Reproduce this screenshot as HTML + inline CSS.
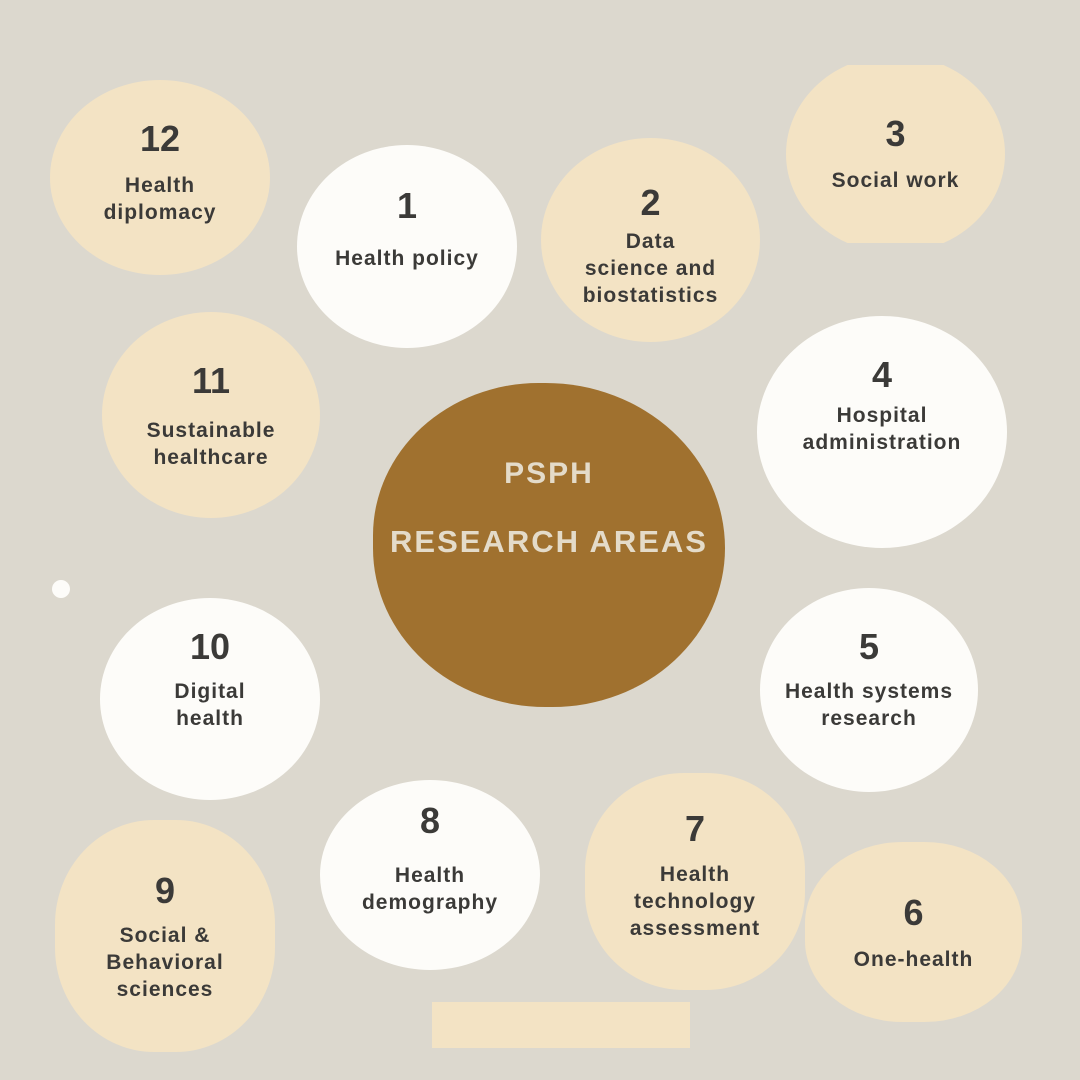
<!DOCTYPE html>
<html><head><meta charset="utf-8"><style>
html,body{margin:0;padding:0}
body{width:1080px;height:1080px;background:#dcd8ce;position:relative;overflow:hidden;font-family:"Liberation Sans",sans-serif;color:#3b3a38}
.c{position:absolute;border-radius:50%;display:flex;flex-direction:column;align-items:center;text-align:center}
.b{background:#f3e3c4}.w{background:#fdfcf9}
.n{position:absolute;left:0;right:0;font-size:36px;font-weight:bold;text-align:center}
.t{position:absolute;left:0;right:0;font-size:21px;line-height:27px;text-align:center;letter-spacing:1px;font-weight:bold}
</style></head><body>
<div class="c b" style="left:50px;top:80px;width:220px;height:195px"><div class="n" style="top:38px">12</div><div class="t" style="top:92px">Health<br>diplomacy</div></div>
<div class="c w" style="left:297px;top:145px;width:220px;height:203px"><div class="n" style="top:40px">1</div><div class="t" style="top:100px">Health policy</div></div>
<div class="c b" style="left:541px;top:138px;width:219px;height:204px"><div class="n" style="top:44px">2</div><div class="t" style="top:90px">Data<br>science and<br>biostatistics</div></div>
<div class="c b" style="left:786px;top:55px;width:219px;height:198px;clip-path:inset(10px 0 10px 0)"><div class="n" style="top:58px">3</div><div class="t" style="top:112px">Social work</div></div>
<div class="c b" style="left:102px;top:312px;width:218px;height:206px"><div class="n" style="top:48px">11</div><div class="t" style="top:105px">Sustainable<br>healthcare</div></div>
<div class="c" style="left:373px;top:383px;width:352px;height:324px;background:#a0712f;border-radius:48% 52% 50% 50%"></div>
<div style="position:absolute;left:373px;top:457px;width:352px;text-align:center;color:#e4dbc9;font-weight:bold;font-size:30px;letter-spacing:2px">PSPH</div>
<div style="position:absolute;left:373px;top:524px;width:352px;text-align:center;color:#e4dbc9;font-weight:bold;font-size:31px;letter-spacing:2px">RESEARCH AREAS</div>
<div class="c w" style="left:757px;top:316px;width:250px;height:232px"><div class="n" style="top:38px">4</div><div class="t" style="top:86px">Hospital<br>administration</div></div>
<div class="c w" style="left:100px;top:598px;width:220px;height:202px"><div class="n" style="top:28px">10</div><div class="t" style="top:80px">Digital<br>health</div></div>
<div class="c w" style="left:760px;top:588px;width:218px;height:204px"><div class="n" style="top:38px">5</div><div class="t" style="top:90px">Health systems<br>research</div></div>
<div class="c w" style="left:320px;top:780px;width:220px;height:190px"><div class="n" style="top:20px">8</div><div class="t" style="top:82px">Health<br>demography</div></div>
<div class="c b" style="left:585px;top:773px;width:220px;height:217px;border-radius:45%"><div class="n" style="top:35px">7</div><div class="t" style="top:88px">Health<br>technology<br>assessment</div></div>
<div class="c b" style="left:55px;top:820px;width:220px;height:232px;border-radius:45%"><div class="n" style="top:50px">9</div><div class="t" style="top:102px">Social &amp;<br>Behavioral<br>sciences</div></div>
<div class="c b" style="left:805px;top:842px;width:217px;height:180px;border-radius:45%"><div class="n" style="top:50px">6</div><div class="t" style="top:104px">One-health</div></div>
<div style="position:absolute;left:52px;top:580px;width:18px;height:18px;border-radius:50%;background:#fdfcf9"></div>
<div style="position:absolute;left:432px;top:1002px;width:258px;height:46px;background:#f3e3c4"></div>
</body></html>
